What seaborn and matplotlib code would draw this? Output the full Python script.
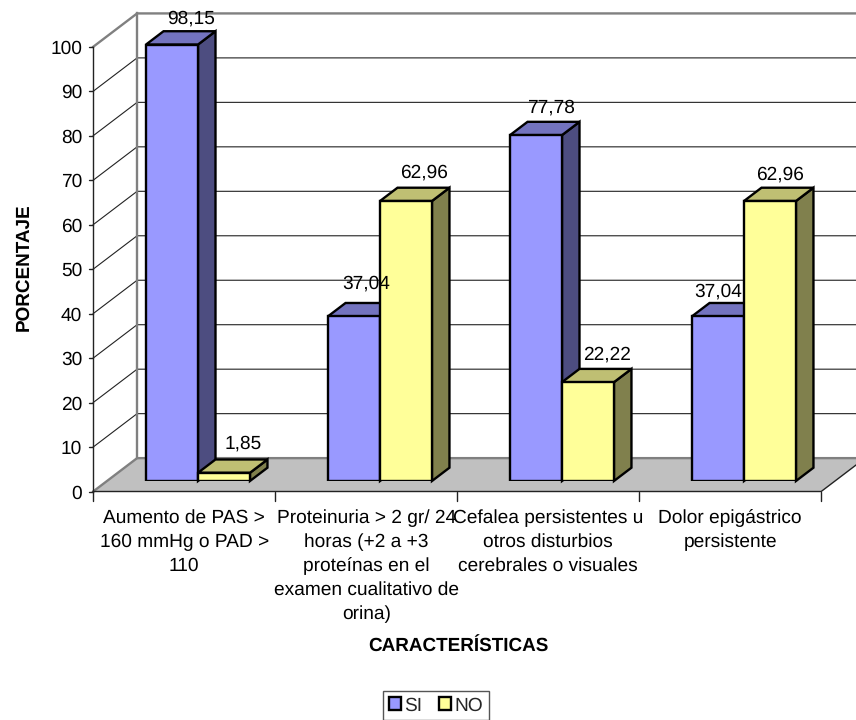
import matplotlib
matplotlib.use("Agg")
import matplotlib.pyplot as plt
from matplotlib.patches import Polygon
import numpy as np
import pandas as pd
import seaborn as sns

categories = [
    "Aumento de PAS >\n160 mmHg o PAD >\n110",
    "Proteinuria > 2 gr/ 24\nhoras (+2 a +3\nproteínas en el\nexamen cualitativo de\norina)",
    "Cefalea persistentes u\notros disturbios\ncerebrales o visuales",
    "Dolor epigástrico\npersistente",
]
si_values = [98.15, 37.04, 77.78, 37.04]
no_values = [1.85, 62.96, 22.22, 62.96]
y_ticks = list(range(0, 101, 10))

SI_SHADES = ["#9999FF", "#7373BF", "#4D4D80"]
NO_SHADES = ["#FFFF99", "#BFBF73", "#80804D"]

# Hand-placed value labels: pixel shift from the centre of each bar's top face
si_shift = [(10, 8), (3, 14), (6, 9), (-9, 6)]
no_shift = [(10, 11), (9, 10), (10, 9), (1, 8)]

WIDTH, HEIGHT = 856, 720
PX_CAT, PX_VAL = 182.0, 4.447
DX, DY = 17.5, 13.3
D_FRONT, D_BACK = -0.79, 1.72
LABEL_SIZE = 13.8
TITLE_SIZE = 13.6

sns.set_theme(style="white")
plt.rcParams["font.family"] = ["Liberation Sans", "DejaVu Sans"]
plt.rcParams["text.hinting"] = "no_hinting"

df = pd.DataFrame({
    "cat": categories * 2,
    "serie": ["SI"] * 4 + ["NO"] * 4,
    "pct": si_values + no_values,
})

fig = plt.figure(figsize=(WIDTH / 100, HEIGHT / 100), dpi=100, facecolor="white")
left, bottom = 107, 481
ax = fig.add_axes([left / WIDTH, 1 - bottom / HEIGHT,
                   4 * PX_CAT / WIDTH, 100 * PX_VAL / HEIGHT])

sns.barplot(data=df, x="cat", y="pct", hue="serie", hue_order=["SI", "NO"],
            palette={"SI": SI_SHADES[0], "NO": NO_SHADES[0]}, width=0.571, gap=0,
            edgecolor="black", linewidth=1.7, saturation=1, ax=ax)
ax.set_xlim(-0.5, 3.5)
ax.set_ylim(0, 100)
for side in ax.spines.values():
    side.set_visible(False)
ax.set_xticks([])
ax.set_yticks([])
ax.set_xlabel("")
ax.set_ylabel("")
ax.patch.set_alpha(0)


def proj(x, v, d):
    return x + d * DX / PX_CAT, v + d * DY / PX_VAL


def line(points, color, lw, z=1):
    xs, ys = zip(*points)
    ax.plot(xs, ys, color=color, lw=lw, clip_on=False, zorder=z,
            solid_capstyle="projecting")


x0, x1 = -0.5, 3.5
floor = [proj(x0, 0, D_FRONT), proj(x0, 0, D_BACK), proj(x1, 0, D_BACK), proj(x1, 0, D_FRONT)]
ax.add_patch(Polygon(floor, closed=True, facecolor="#C0C0C0", edgecolor="none",
                     clip_on=False, zorder=0.5))

# Gridlines along the side wall and the back wall
for v in y_ticks[1:]:
    line([proj(x0, v, D_FRONT), proj(x0, v, D_BACK), proj(x1, v, D_BACK)],
         "#808080" if v == 100 else "#222222", 1.7 if v == 100 else 0.8)
line([proj(x0, 0, D_FRONT), proj(x0, 0, D_BACK), proj(x1, 0, D_BACK)], "#808080", 1.7, z=0.8)
line([proj(x0, 0, D_BACK), proj(x0, 100, D_BACK)], "#808080", 1.7)

# Axis lines on the front plane
line([proj(x0, 0, D_FRONT), proj(x0, 100, D_FRONT)], "#222222", 1.0, z=1.2)
line([proj(x0, 0, D_FRONT), proj(x1, 0, D_FRONT), proj(x1, 0, D_BACK)], "#222222", 1.0, z=1.2)

for v in y_ticks:
    xt, yt = proj(x0, v, D_FRONT)
    ax.plot([xt - 4 / PX_CAT, xt], [yt, yt], color="#222222", lw=1.0, clip_on=False, zorder=1.2)
    ax.annotate(str(v), (xt, yt), xytext=(-11, 0), textcoords="offset pixels",
                ha="right", va="center_baseline", fontsize=LABEL_SIZE, color="black",
                annotation_clip=False)

for i in range(5):
    xt, yt = proj(x0 + i, 0, D_FRONT)
    ax.plot([xt, xt], [yt, yt - 9 / PX_VAL], color="#222222", lw=1.0, clip_on=False, zorder=1.2)

for i, label in enumerate(categories):
    xt, yt = proj(i, 0, D_FRONT)
    ax.annotate(label, (xt, yt), xytext=(0, -18), textcoords="offset pixels",
                ha="center", va="top", fontsize=LABEL_SIZE, color="black", linespacing=1.45,
                annotation_clip=False)

# Depth faces and value labels for each bar
bars = [p for c in ax.containers for p in c]
n = len(categories)
for k, (values, shades, shifts) in enumerate([(si_values, SI_SHADES, si_shift),
                                              (no_values, NO_SHADES, no_shift)]):
    for i in range(n):
        bar = bars[k * n + i]
        bx0, bx1 = bar.get_x(), bar.get_x() + bar.get_width()
        top = values[i]
        z = 3 + k
        bar.set_zorder(z + 0.1)
        bar.set_joinstyle("miter")
        side = [proj(bx1, 0, 0), proj(bx1, 0, 1), proj(bx1, top, 1), proj(bx1, top, 0)]
        roof = [proj(bx0, top, 0), proj(bx0, top, 1), proj(bx1, top, 1), proj(bx1, top, 0)]
        for face, color in ((side, shades[2]), (roof, shades[1])):
            ax.add_patch(Polygon(face, closed=True, facecolor=color, edgecolor="black",
                                 linewidth=1.7, joinstyle="miter", clip_on=False, zorder=z))
        cx, cy = proj((bx0 + bx1) / 2, top, 1)
        cx = (bx0 + bx1) / 2 + 0.5 * DX / PX_CAT
        ax.annotate(f"{top:.2f}".replace(".", ","), (cx, cy), xytext=shifts[i],
                    textcoords="offset pixels", ha="center", va="baseline",
                    fontsize=LABEL_SIZE, color="black", zorder=6, annotation_clip=False)

fig.text(23.5 / WIDTH, 1 - 267 / HEIGHT, "PORCENTAJE", rotation=90, ha="center", va="center",
         fontsize=TITLE_SIZE, fontweight="bold", color="black")
fig.text(458 / WIDTH, 1 - 647 / HEIGHT, "CARACTERÍSTICAS", ha="center", va="center",
         fontsize=TITLE_SIZE, fontweight="bold", color="black")

sns.move_legend(ax, loc="center", bbox_to_anchor=(436 / WIDTH, 1 - 705.5 / HEIGHT),
                bbox_transform=fig.transFigure, ncol=2, title=None, frameon=True,
                fontsize=LABEL_SIZE, handlelength=0.62, handleheight=0.62, handletextpad=0.2,
                columnspacing=0.85, borderpad=0.3, borderaxespad=0, fancybox=False,
                edgecolor="#555555", framealpha=1)

fig.savefig("out.png", dpi=100, facecolor="white")
